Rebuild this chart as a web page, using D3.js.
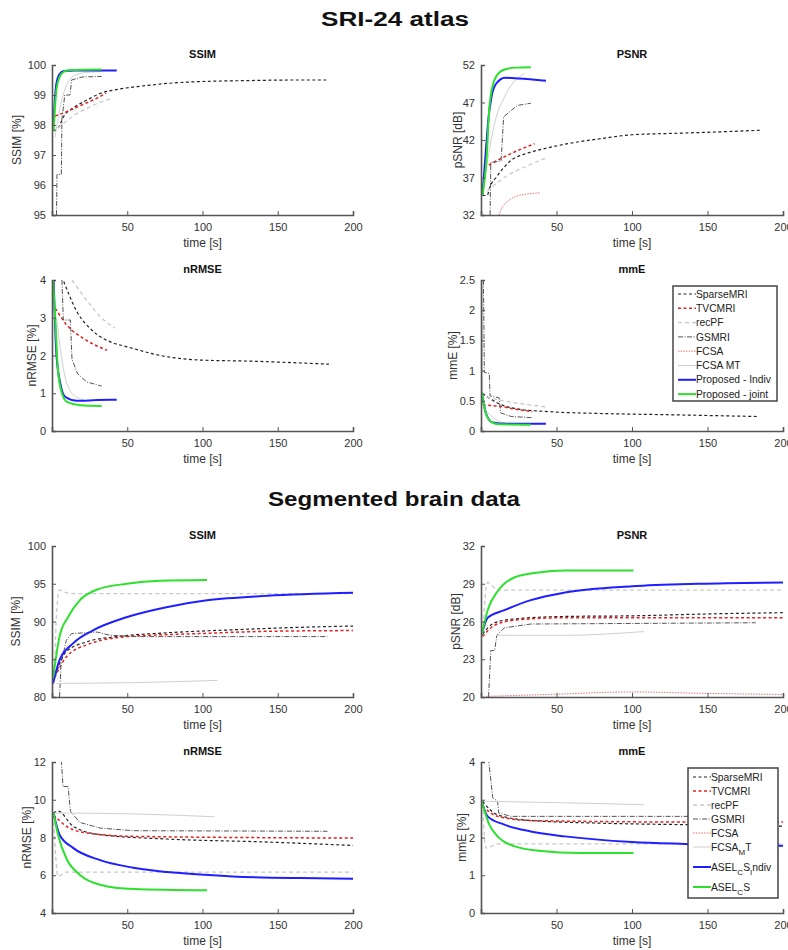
<!DOCTYPE html>
<html>
<head>
<meta charset="utf-8">
<script src="https://cdn.jsdelivr.net/npm/d3@7"></script>
<style>
  body { margin: 0; background: #fff; }
  svg text { font-family: "Liberation Sans", Arial, sans-serif; fill: #333; }
</style>
</head>
<body>
<svg id="fig" width="788" height="950"></svg>
<script>
// Methods (legend order)
var methods = ["sparse", "tvc", "recPF", "gsmri", "fcsa", "fcsaMT", "indiv", "joint"];
var legendAtlas = ["SparseMRI", "TVCMRI", "recPF", "GSMRI", "FCSA", "FCSA MT", "Proposed - Indiv", "Proposed - joint"];

// x ticks (shared)
var xTicks = [50, 100, 150, 200];

// ## SRI-24 atlas
var atlasSsimTicks = [95, 96, 97, 98, 99, 100];
var atlasSsim = {
    sparse: [[1,97.8],[4,97.9],[8,98.3],[15,98.6],[22,98.8],[32,99.05],[45,99.2],[60,99.3],[80,99.4],[100,99.45],[130,99.48],[160,99.5],[183,99.5]],
    tvc: [[2,98.3],[10,98.45],[19,98.65],[28,98.85],[36,99.06]],
    recPF: [[4,97.9],[14,98.3],[25,98.6],[40,98.9]],
    gsmri: [[3,95],[3.3,96.35],[6.2,96.35],[6.6,98.2],[8.5,99.0],[12,99.0],[13,99.5],[20,99.6],[33,99.62]],
    fcsa: [],
    fcsaMT: [[2,97.6],[5,98.5],[8,99.1],[11,99.45],[15,99.65],[22,99.75],[33,99.78]],
    indiv: [[1,98.0],[2,98.9],[3,99.4],[5,99.7],[8,99.8],[15,99.82],[43,99.82]],
    joint: [[1,97.8],[2,98.6],[3,99.2],[5,99.6],[8,99.78],[12,99.83],[33,99.85]]
};

var atlasPsnrTicks = [32, 37, 42, 47, 52];
var atlasPsnr = {
    sparse: [[1,34.6],[4,34.6],[6,35.8],[10,37],[20,39.3],[30,40.2],[43,40.9],[60,41.6],[80,42.2],[100,42.7],[130,42.9],[160,43.1],[185,43.3]],
    tvc: [[2,38.3],[10,39.2],[20,40.2],[35.5,41.5]],
    recPF: [[4,35.2],[17,37.2],[30,38.5],[43,39.6]],
    gsmri: [[6,32],[6.5,39],[13.3,39.2],[15,45.1],[24,46.6],[33,46.9]],
    fcsa: [[12,32],[14,33],[17,33.7],[25,34.6],[39,34.95]],
    fcsaMT: [[2,36],[5,40],[10,45],[15,47.5],[20,49.3],[29,50.9]],
    indiv: [[1,34.7],[3,40],[5,45],[7,47.8],[10,49.5],[16,50.3],[25,50.2],[43,49.9]],
    joint: [[1,34.7],[3.8,39.8],[5.6,46.5],[8.9,50],[14.4,51.3],[23,51.65],[33,51.7]]
};

var atlasNrmseTicks = [0, 1, 2, 3, 4];
var atlasNrmse = {
    sparse: [[7.8,3.96],[16.6,3.16],[27.7,2.63],[38.8,2.36],[50,2.23],[72,2.0],[98,1.88],[132,1.85],[184,1.77]],
    tvc: [[2.2,3.25],[10,2.8],[21,2.45],[36.5,2.14]],
    recPF: [[13.3,4],[23,3.47],[32,3.03],[42,2.72]],
    gsmri: [[6.6,4],[7.5,2.94],[12.2,2.94],[13.3,1.9],[17,1.52],[23,1.3],[33,1.19]],
    fcsa: [],
    fcsaMT: [[3,3.0],[7.8,1.6],[13.3,1.0],[21,0.83]],
    indiv: [[1.1,4],[2.9,2.05],[5.5,1.26],[8.9,0.9],[16.6,0.8],[30,0.82],[43,0.83]],
    joint: [[0.7,4],[2.2,2.94],[3.8,1.7],[6,1.08],[10,0.77],[18.8,0.68],[33,0.66]]
};

var atlasMmeTicks = [0, 0.5, 1, 1.5, 2, 2.5];
var atlasMme = {
    sparse: [[1.1,0.62],[5,0.55],[12,0.45],[23,0.37],[45,0.32],[79,0.29],[123,0.27],[183,0.24]],
    tvc: [[1.1,0.43],[12,0.41],[23,0.36],[34,0.32]],
    recPF: [[3.3,0.56],[19,0.48],[43,0.40]],
    gsmri: [[1.5,2.8],[2.2,0.97],[5.5,0.95],[6,0.58],[12,0.55],[13,0.3],[20,0.24],[34,0.22]],
    fcsa: [],
    fcsaMT: [[0.8,2.6],[1.2,0.45],[7.8,0.23],[16.7,0.13],[30,0.12]],
    indiv: [[0.7,0.62],[3.3,0.29],[7.8,0.14],[16.7,0.12],[43,0.12]],
    joint: [[0.5,0.65],[2.9,0.32],[6.7,0.15],[12,0.11],[33,0.105]]
};

// ## Segmented brain data
var segSsimTicks = [80, 85, 90, 95, 100];
var segSsim = {
    sparse: [[1,82.2],[9.5,86.0],[23,87.3],[43,88.0],[76,88.5],[120,88.9],[160,89.2],[200,89.4]],
    tvc: [[1.8,82.6],[9.5,85.3],[23,86.9],[50,88.0],[98,88.4],[143,88.7],[200,88.8]],
    recPF: [[1,82],[2,86],[3,91],[5,94.2],[8,93.9],[15,93.7],[200,93.7]],
    gsmri: [[5,80],[6,84.4],[9.5,87.5],[13,88.4],[30,88.6],[38,88.2],[54,88.0],[183,88.0]],
    fcsa: [],
    fcsaMT: [[3,81.8],[54,81.9],[110,82.2]],
    indiv: [[0.7,81.8],[5,84.9],[14,87.1],[27,88.8],[50,90.6],[76,91.9],[103,92.8],[143,93.4],[200,93.8]],
    joint: [[0.7,82.5],[5,88.0],[10.7,90.6],[18.4,92.8],[29.6,94.2],[49.6,95.0],[72,95.4],[103,95.5]]
};

var segPsnrTicks = [20, 23, 26, 29, 32];
var segPsnr = {
    sparse: [[1,25],[9,25.9],[22,26.2],[55,26.4],[100,26.45],[150,26.6],[200,26.7]],
    tvc: [[1,24.8],[9,25.7],[22,26.1],[55,26.3],[200,26.3]],
    recPF: [[1,25.1],[4.4,29.1],[11,28.5],[200,28.5]],
    gsmri: [[5,20],[6.5,23.7],[9,23.7],[10.5,24.9],[15.5,25.5],[33,25.8],[182,25.9]],
    fcsa: [[3.3,20.05],[44,20.2],[100,20.4],[144,20.3],[200,20.2]],
    fcsaMT: [[10,24.9],[55,24.9],[108,25.2]],
    indiv: [[0.4,24.9],[4.4,26.3],[15.5,26.9],[33,27.7],[55.5,28.3],[100,28.8],[144,29.0],[200,29.1]],
    joint: [[0.4,24.9],[4.4,26.9],[11,28.4],[22,29.5],[38,29.9],[55.5,30.05],[101,30.05]]
};

var segNrmseTicks = [4, 6, 8, 10, 12];
var segNrmse = {
    sparse: [[1,9.3],[4,9.4],[14,8.6],[32,8.15],[76,7.92],[143,7.76],[200,7.58]],
    tvc: [[1,9.2],[9.5,8.6],[23,8.24],[54,8.06],[200,7.97]],
    recPF: [[1,9.2],[4,5.94],[9.5,6.17],[200,6.17]],
    gsmri: [[6.2,12.1],[7.3,10.7],[10.7,10.7],[12.2,9.4],[18.4,8.8],[32,8.5],[54,8.36],[183,8.33]],
    fcsa: [],
    fcsaMT: [[1.8,9.3],[54,9.25],[108,9.1]],
    indiv: [[1,9.3],[5,8.15],[14,7.45],[32,6.8],[54,6.4],[87,6.1],[120,5.94],[165,5.85],[200,5.82]],
    joint: [[1,9.3],[4,8.15],[9.5,6.9],[18.4,6.03],[32,5.5],[54,5.27],[103,5.2]]
};

var segMmeTicks = [0, 1, 2, 3, 4];
var segMme = {
    sparse: [[1,2.96],[11,2.6],[33,2.45],[78,2.38],[135,2.34],[200,2.3]],
    tvc: [[1,2.83],[11,2.56],[33,2.45],[135,2.41],[200,2.41]],
    recPF: [[1,2.9],[3.3,1.72],[11,1.83],[200,1.83]],
    gsmri: [[4.9,4.1],[7.8,3.05],[11,2.96],[11.7,2.65],[20,2.56],[183,2.56]],
    fcsa: [],
    fcsaMT: [[2.2,2.96],[55,2.92],[108,2.87]],
    indiv: [[0.4,2.96],[4.4,2.56],[15.5,2.34],[33,2.16],[55.5,2.03],[100,1.88],[135,1.83],[200,1.78]],
    joint: [[0.4,2.96],[5.5,2.34],[11,2.03],[22,1.77],[38,1.65],[66,1.59],[101,1.59]]
};

// # Styles
var styles = {
    sparse: { color: "#222", width: 1.2, dash: "3,2.5" },
    tvc:    { color: "#e32222", width: 1.5, dash: "3,2.5" },
    recPF:  { color: "#c9c9c9", width: 1.3, dash: "4,3" },
    gsmri:  { color: "#555", width: 1, dash: "5,1.5,1,1.5" },
    fcsa:   { color: "#e87575", width: 1, dash: "1.5,1.2" },
    fcsaMT: { color: "#d0d0d0", width: 1, dash: null },
    indiv:  { color: "#1f1fff", width: 2, dash: null },
    joint:  { color: "#2ee02e", width: 2, dash: null }
};

var svg = d3.select("#fig");
var colL = [52, 353], colR = [481, 783];
var rows = [[65, 215], [280, 431], [546, 697], [762, 913]];

// # Figure titles
svg.append("text").attr("x", 395).attr("y", 26).attr("text-anchor", "middle")
    .attr("textLength", 148).attr("lengthAdjust", "spacingAndGlyphs")
    .style("font-size", "20px").style("font-weight", "bold").style("fill", "#111").text("SRI-24 atlas");
svg.append("text").attr("x", 394).attr("y", 506).attr("text-anchor", "middle")
    .attr("textLength", 252).attr("lengthAdjust", "spacingAndGlyphs")
    .style("font-size", "20px").style("font-weight", "bold").style("fill", "#111").text("Segmented brain data");

// # Panels
drawPanel("p1", colL, rows[0], atlasSsimTicks, atlasSsim, "SSIM", "SSIM [%]", 35);
drawPanel("p2", colR, rows[0], atlasPsnrTicks, atlasPsnr, "PSNR", "pSNR [dB]", 23);
drawPanel("p3", colL, rows[1], atlasNrmseTicks, atlasNrmse, "nRMSE", "nRMSE [%]", 20);
drawPanel("p4", colR, rows[1], atlasMmeTicks, atlasMme, "mmE", "mmE [%]", 28);
drawPanel("p5", colL, rows[2], segSsimTicks, segSsim, "SSIM", "SSIM [%]", 36);
drawPanel("p6", colR, rows[2], segPsnrTicks, segPsnr, "PSNR", "pSNR [dB]", 25);
drawPanel("p7", colL, rows[3], segNrmseTicks, segNrmse, "nRMSE", "nRMSE [%]", 25);
drawPanel("p8", colR, rows[3], segMmeTicks, segMme, "mmE", "mmE [%]", 19);

drawLegend(673, 286, 104, 115, 14.3, legendAtlas.map(function(s){ return [[s, null]]; }));
drawLegend(688, 768, 90, 130, 0, [
    [["SparseMRI", null]], [["TVCMRI", null]], [["recPF", null]], [["GSMRI", null]], [["FCSA", null]],
    [["FCSA", null], ["M", "sub"], ["T", null]],
    [["ASEL", null], ["C", "sub"], ["S", null], ["I", "sub"], ["ndiv", null]],
    [["ASEL", null], ["C", "sub"], ["S", null]]
], [777, 791, 805, 819, 833, 847, 867, 887]);

function drawPanel(id, xr, yr, yTicks, data, title, ylabel, ylabOff){
    var x = d3.scaleLinear().domain([0, 200]).range(xr);
    var y = d3.scaleLinear().domain([yTicks[0], yTicks[yTicks.length - 1]]).range([yr[1], yr[0]]);
    var g = svg.append("g");

    g.append("clipPath").attr("id", "clip_" + id).append("rect")
        .attr("x", xr[0]).attr("y", yr[0]).attr("width", xr[1] - xr[0]).attr("height", yr[1] - yr[0]);

    // series
    var plot = g.append("g").attr("clip-path", "url(#clip_" + id + ")");
    methods.forEach(function(m){
        var pts = data[m];
        if (!pts || pts.length < 2) return;
        var st = styles[m];
        var curve = (m === "gsmri") ? d3.curveLinear : d3.curveMonotoneX;
        plot.append("path")
            .datum(pts)
            .attr("d", d3.line().curve(curve).x(function(d){ return x(d[0]); }).y(function(d){ return y(d[1]); }))
            .attr("fill", "none")
            .attr("stroke", st.color)
            .attr("stroke-width", st.width)
            .attr("stroke-dasharray", st.dash);
    });

    // axes (ticks inside, MATLAB style)
    var xa = d3.axisBottom(x).tickValues(xTicks).tickSize(-4).tickPadding(8).tickFormat(function(d){ return String(d); });
    var ya = d3.axisLeft(y).tickValues(yTicks).tickSize(-4).tickPadding(6).tickFormat(function(d){ return String(d); });
    var gx = g.append("g").attr("transform", "translate(0," + yr[1] + ")").call(xa);
    var gy = g.append("g").attr("transform", "translate(" + xr[0] + ",0)").call(ya);
    [gx, gy].forEach(function(a){
        a.select(".domain").attr("stroke", "#555").attr("stroke-width", 1.6);
        a.selectAll(".tick line").attr("stroke", "#555");
        a.selectAll(".tick text").style("font-size", "11px").style("fill", "#333").attr("font-family", null);
    });

    g.append("text").attr("x", (xr[0] + xr[1]) / 2).attr("y", yr[0] - 7).attr("text-anchor", "middle")
        .style("font-size", "11px").style("font-weight", "bold").style("fill", "#111").text(title);
    g.append("text").attr("x", (xr[0] + xr[1]) / 2).attr("y", yr[1] + 32).attr("text-anchor", "middle")
        .style("font-size", "12px").text("time [s]");
    g.append("text").attr("transform", "translate(" + (xr[0] - ylabOff) + "," + ((yr[0] + yr[1]) / 2) + ") rotate(-90)")
        .attr("text-anchor", "middle").attr("dy", "0.35em")
        .style("font-size", "12px").text(ylabel);
    return 0;
}

function drawLegend(lx, ly, w, h, step, labels, ys){
    var g = svg.append("g");
    g.append("rect").attr("x", lx).attr("y", ly).attr("width", w).attr("height", h)
        .attr("fill", "#fff").attr("stroke", "#444").attr("stroke-width", 1.5);
    methods.forEach(function(m, i){
        var yy = ys ? ys[i] : ly + 8 + i * step;
        var st = styles[m];
        g.append("line").attr("x1", lx + 5).attr("x2", lx + 23).attr("y1", yy).attr("y2", yy)
            .attr("stroke", st.color).attr("stroke-width", st.width).attr("stroke-dasharray", st.dash);
        var t = g.append("text").attr("x", lx + 23).attr("y", yy).attr("dy", "0.35em")
            .style("font-size", "10.3px").style("fill", "#222");
        labels[i].forEach(function(part, k){
            var sp = t.append("tspan").text(part[0]);
            if (part[1] === "sub") {
                sp.attr("dy", "4").style("font-size", "8px");
            } else if (k > 0 && labels[i][k - 1][1] === "sub") {
                // back to the baseline after a subscript
                sp.attr("dy", "-4");
            }
        });
    });
    return 0;
}
</script>
</body>
</html>
